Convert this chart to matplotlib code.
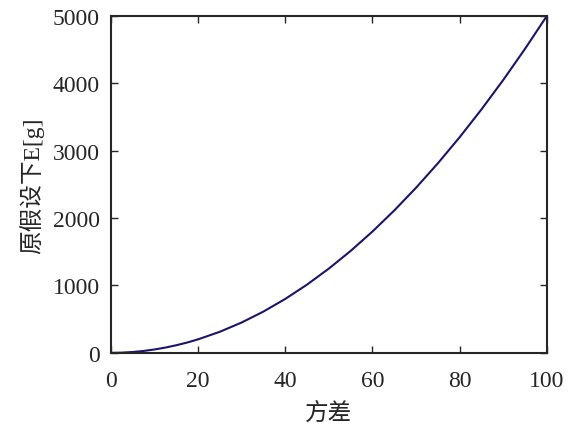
import matplotlib
matplotlib.use('Agg')
import matplotlib.pyplot as plt

## Data
variance = [0, 2.5, 5, 7.5, 10, 12.5, 15, 17.5, 20, 25, 30, 35, 40, 45, 50, 55, 60,
            65, 70, 75, 80, 85, 90, 95, 100]
expect_g = [0, 3, 12.5, 28, 50, 78, 112.5, 153, 200, 312.5, 450, 612.5, 800, 1012.5,
            1250, 1512.5, 1800, 2112.5, 2450, 2812.5, 3200, 3612.5, 4050, 4512.5, 5000]
xticks = [0, 20, 40, 60, 80, 100]
yticks = [0, 1000, 2000, 3000, 4000, 5000]

plt.rcParams['font.family'] = ['Liberation Serif', 'Noto Sans CJK SC']

fig = plt.figure(figsize=(5.8, 4.31), dpi=100)
ax = fig.add_axes([0.191, 0.179, 0.752, 0.782])

ax.plot(variance, expect_g, color='#1c1467', linewidth=1.5)

ax.set_xlim(0, 100)
ax.set_ylim(0, 5000)
ax.set_xticks(xticks)
ax.set_yticks(yticks)
ax.tick_params(direction='in', top=True, right=True, labelsize=17,
               length=5, width=1, color='#262626', labelcolor='#262626')
ax.tick_params(axis='x', pad=12)
ax.tick_params(axis='y', pad=8)
for s in ax.spines.values():
    s.set_linewidth(1.5)
    s.set_color('#262626')

ax.set_xlabel('方差', fontsize=17, color='#262626', labelpad=8)
ax.set_ylabel('原假设下E[g]', fontsize=17, color='#262626', labelpad=6)

fig.savefig('out.png', dpi=100)
